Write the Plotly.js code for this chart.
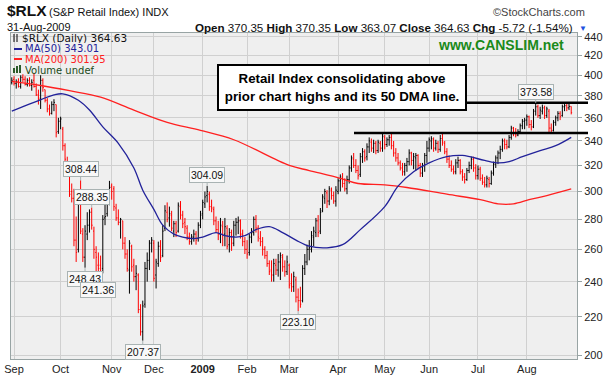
<!DOCTYPE html>
<html><head><meta charset="utf-8">
<script src="https://cdn.plot.ly/plotly-3.0.1.min.js"></script>
<style>html,body{margin:0;padding:0;background:#fff}#chart{width:612px;height:378px}</style>
</head><body><div id="chart"></div>
<script>
// ---- data (S&P Retail Index $RLX, daily, 29-Aug-2008 .. 31-Aug-2009) ----
const symbol = "$RLX";
const symbolName = "(S&amp;P Retail Index) INDX";
const lastDate = "31-Aug-2009";
const monthLabels = ["Sep","Oct","Nov","Dec","<b>2009</b>","Feb","Mar","Apr","May","Jun","Jul","Aug"];
const monthTradingDays = [21,23,19,22,20,19,22,21,20,22,22,21];
const barsBeforeFirstMonth = 1;

const openP = [
 393,396,392,394,389,398,396,391,395,390,395,389,381,377,395,386,376,368,364,372,372,348,
 357,350,336,323,316,300,295,266,260,300,270,255,270,276,285,272,258,250,250,248,281,284,295,
 304,302,288,281,278,279,264,257,247,262,250,243,244,224,212,227,248,253,264,
 264,244,251,262,256,274,285,281,283,272,277,272,289,283,278,274,268,265,268,270,267,276,
 284,291,297,298,289,287,279,273,270,275,270,274,263,271,264,276,278,279,270,265,
 260,258,268,271,280,274,267,265,260,256,251,247,244,250,247,252,255,249,246,
 250,239,237,241,231,229,229,248,252,260,260,268,271,279,272,286,295,299,293,301,297,293,
 300,308,310,306,302,309,318,325,320,316,313,327,331,327,335,339,334,338,332,338,334,
 343,337,341,343,336,330,326,322,318,315,320,323,330,324,326,328,320,314,320,328,
 334,340,341,334,338,333,342,338,331,325,320,317,315,322,324,315,311,309,316,320,325,318,
 312,317,310,307,305,309,306,314,321,326,330,333,340,337,335,343,351,347,345,348,353,357,
 358,361,354,352,366,370,362,366,369,362,366,351,349,356,360,364,362,370,371,369,370.35];
const highP = [
 398,399,396,397,400,401,399,397,398,396,402,392,386,400,397,386,378,372,375,377,372,360,
 361,352,338,327,318,306,302,282,296,308.44,274,276,285,287,288.35,275,262,258,256,283,293,300,308,
 306,304,291,287,281,279,268,260,266,263,254,250,245,227,229,252,258,266,268,
 266,254,265,266,276,290,292,289,286,279,279,292,293,286,281,276,271,270,273,272,278,286,
 294,300,304.09,300,294,289,282,279,281,279,281,276,274,273,279,281,282,280,273,268,
 266,270,274,282,283,276,272,268,262,259,253,253,254,254,257,258,257,253,256,
 251,245,246,243,236,237,250,257,263,266,272,275,281,283,288,298,302,301,304,303,300,304,
 310,313,314,310,312,320,328,330,325,320,330,334,333,338,343,342,341,340,341,340,347,
 345,343,345,346,340,334,330,324,322,322,326,333,331,330,330,329,322,322,330,340,
 343,344,343,341,340,345,347,340,334,328,324,320,325,327,325,317,314,318,323,327,327,321,
 320,319,313,311,312,311,316,323,328,332,336,342,342,341,345,353,352,351,350,355,359,360,
 363,362,358,368,373.58,372,370,372,371,370,368,355,358,362,366,366,372,373,373,373.5,370.35];
const lowP = [
 391,390,387,388,387,393,390,389,389,385,388,380,372,368,384,374,365,362,363,366,343,346,
 350,332,322,312,296,292,262,252,258,270,252,248.43,266,271,273,254,246,241.36,244,245,276,282,290,
 294,286,279,276,267,260,254,246,233,246,240,235,222,210,207.37,225,240,247,258,
 240,236,249,252,255,272,278,275,272,268,268,271,280,274,270,266,263,263,265,263,265,274,
 280,288,292,286,285,276,271,266,264,262,262,260,258,259,262,269,270,267,262,257,
 254,256,264,269,271,265,262,256,254,249,244,240,240,244,243,241,246,243,244,
 236,234,234,228,223.10,225,228,244,250,253,258,262,268,268,270,285,291,288,290,294,291,289,
 298,300,303,300,298,306,315,318,314,309,311,322,323,324,330,331,330,329,330,331,331,
 333,335,336,333,327,323,320,316,312,312,315,320,320,317,316,317,311,311,315,322,
 331,333,331,332,330,331,336,329,322,318,315,313,313,318,313,308,306,308,314,317,315,309,
 309,308,305,303,303,303,305,312,318,321,325,331,333,333,334,341,344,343,344,346,350,350,
 353,351,349,351,362,360,359,363,359,360,347,346,348,353,357,358,361,366,366,367,363.07];
const closeP = [
 395,392,394,389,398,396,391,395,390,393,389,381,378,395,388,376,368,364,372,374,347,357,
 359,336,325,316,298,295,266,258,293,272,255,272,276,285,276,260,255,248,246,280,282,296,303,
 300,289,281,278,280,264,257,248,264,249,243,245,224,212,226,248,253,264,266,
 242,252,262,255,272,286,280,284,274,277,271,290,283,277,275,268,265,268,270,266,276,283,
 292,296,300,289,288,279,273,270,276,269,275,262,271,264,276,278,279,270,265,260,
 257,268,271,280,274,268,265,260,256,251,246,244,251,247,252,256,249,246,252,
 238,237,243,231,229,227,248,252,260,261,269,272,279,271,285,296,300,293,302,297,293,301,
 308,311,306,302,309,318,326,320,316,312,327,331,326,335,340,334,338,332,339,334,344,
 337,341,343,336,330,326,322,318,315,320,323,330,324,327,328,320,314,320,328,334,
 341,342,334,338,333,342,339,331,325,320,317,315,322,324,315,311,309,316,320,325,318,312,
 317,310,307,305,310,306,314,321,326,330,333,340,337,335,343,351,347,345,348,353,357,358,
 361,354,352,366,370,362,367,369,362,368,351,349,356,360,364,361,370,371,369,370.35,364.63];

// moving averages (bar index, value)
const ma50Idx = [0,10,19,23,30,35,41,48,55,59,64,68,73,77,82,86,92,96,101,105,110,116,122,128,134,142,149,157,168,174,181,188,196,203,213,219,224,230,238,245,252];
const ma50Val = [366,374,381,382,376,367,352,338,318,301,287,276,270,268,267,268,271,269,268,269,273,275,271,266,262,261,263,273,289,304,315,322,327,328,324,322,323,327,332,336,343.01];
const ma200Idx = [0,13,26,40,55,70,85,100,125,134,148,156,168,178,196,211,219,226,233,241,252];
const ma200Val = [394,390,385,379,367,356,349,341,320,316,310,306,305,303,298,294,291,291,294,297,301.95];

// annotated price points: bar index and which extreme
const noteIdx  = [31,36,33,39,59,88,129,236];
const noteSide = ["high","high","low","low","low","high","low","high"];
const resistanceLevel = 373.58;
const supportLevel = 346.8;
const yTicks = [200,220,240,260,280,300,320,340,360,380,400,420,440];

// ---- build ----
const n = closeP.length;
const up = {x:[],o:[],h:[],l:[],c:[]}, dn = {x:[],o:[],h:[],l:[],c:[]};
for (let i = 0; i < n; i++) {
  const g = (i === 0 || closeP[i] >= closeP[i-1]) ? up : dn;
  g.x.push(i); g.o.push(openP[i]); g.h.push(highP[i]); g.l.push(lowP[i]); g.c.push(closeP[i]);
}
const tickVals = []; let pos = barsBeforeFirstMonth;
monthTradingDays.forEach(d => { tickVals.push(pos); pos += d; });

function ohlcTrace(g, col) {
  return {type:'ohlc', x:g.x, open:g.o, high:g.h, low:g.l, close:g.c, tickwidth:0.4,
    increasing:{line:{color:col,width:1}}, decreasing:{line:{color:col,width:1}}, hoverinfo:'skip'};
}
const MA50C = '#22229a', MA200C = '#ff2020';
const traces = [
  {type:'scatter', mode:'lines', x:ma200Idx, y:ma200Val, line:{color:MA200C,width:1.3,shape:'spline',smoothing:1}, hoverinfo:'skip'},
  {type:'scatter', mode:'lines', x:ma50Idx, y:ma50Val, line:{color:MA50C,width:1.3,shape:'spline',smoothing:1}, hoverinfo:'skip'},
  ohlcTrace(up,'#000000'),
  ohlcTrace(dn,'#ff0000')
];

const PL=11, PR=577, PT=33, PB=359;
const px = X => (X-PL)/(PR-PL), py = Y => (PB-Y)/(PB-PT);
const F = 'Liberation Sans, Arial, sans-serif';
const FL = 'DejaVu Sans, Verdana, sans-serif';
const last = n-1;
const chg = closeP[last]-closeP[last-1];
const pct = chg/closeP[last-1]*100;
const f2 = v => v.toFixed(2);

const ann = [];
const P = (X,Y,text,opt={}) => ann.push(Object.assign({xref:'paper',yref:'paper',x:px(X),y:py(Y),text:text,showarrow:false,xanchor:'left',yanchor:'middle',font:{family:F,size:11,color:'#111'}},opt));
P(5,11,'<b>'+symbol+'</b>',{font:{family:F,size:15.5,color:'#111'}});
P(47,12,symbolName);
P(587,12,'©StockCharts.com',{xanchor:'right',font:{family:F,size:11,color:'#444'}});
P(5,27,lastDate);
P(575,27,`<b>Open</b> ${f2(openP[last])} <b>High</b> ${f2(highP[last])} <b>Low</b> ${f2(lowP[last])} <b>Close</b> ${f2(closeP[last])} <b>Chg</b> ${f2(chg)} (${f2(pct)}%)`,{xanchor:'right',font:{family:F,size:11.6,color:'#111'}});
P(577,28,'▼',{font:{family:F,size:8,color:'#2050e0'}});
// legend
const LG = {height:10};
P(20,38,`${symbol} (Daily) ${f2(closeP[last])}`,Object.assign({font:{family:FL,size:10.5,color:'#111'}},LG));
P(23,48.5,`MA(50) ${f2(ma50Val[ma50Val.length-1])}`,Object.assign({font:{family:FL,size:10,color:MA50C}},LG));
P(23,59,`MA(200) ${f2(ma200Val[ma200Val.length-1])}`,Object.assign({font:{family:FL,size:10,color:MA200C}},LG));
P(23,69.5,'Volume undef',Object.assign({font:{family:FL,size:10,color:'#1a4a1a'}},LG));
P(501,45,'<b>www.CANSLIM.net</b>',{xanchor:'center',font:{family:F,size:14,color:'#1a8a1a'}});
// comment box
ann.push({xref:'paper',yref:'paper',x:px(342),y:py(87.5),xanchor:'center',yanchor:'middle',showarrow:false,
  text:'<b>Retail Index consolidating above<br>prior chart highs and its 50 DMA line.</b>',
  font:{family:F,size:13.3,color:'#000'},bgcolor:'#ffffff',bordercolor:'#000',borderwidth:2,borderpad:1,width:244,height:41,align:'center'});
// price notes
noteIdx.forEach((i,k) => {
  const hi = noteSide[k] === 'high';
  const v = hi ? highP[i] : lowP[i];
  ann.push({xref:'x',yref:'y',x:i,y:Math.log10(v),text:f2(v),showarrow:true,arrowhead:0,arrowwidth:1,arrowcolor:'#a9b3b3',
    ax:0,ay:hi?-11:11,standoff:0,bgcolor:'#f8f8f8',bordercolor:'#a9b3b3',borderwidth:1,borderpad:1,
    font:{family:F,size:10.5,color:'#111'}});
});

const shapes = [
  {type:'line',xref:'paper',yref:'y',x0:px(354),x1:px(588),y0:supportLevel,y1:supportLevel,line:{color:'#000',width:2.5},layer:'above'},
  {type:'line',xref:'paper',yref:'y',x0:px(467),x1:px(588),y0:resistanceLevel,y1:resistanceLevel,line:{color:'#000',width:2.5},layer:'above'},
  // legend swatches
  {type:'line',xref:'paper',yref:'paper',x0:px(14),x1:px(22),y0:py(49),y1:py(49),line:{color:MA50C,width:2}},
  {type:'line',xref:'paper',yref:'paper',x0:px(14),x1:px(22),y0:py(59),y1:py(59),line:{color:MA200C,width:2}},
  {type:'line',xref:'paper',yref:'paper',x0:px(14),x1:px(14),y0:py(34),y1:py(42),line:{color:'#000',width:1}},
  {type:'line',xref:'paper',yref:'paper',x0:px(17),x1:px(17),y0:py(34),y1:py(42),line:{color:'#000',width:1}},
  {type:'rect',xref:'paper',yref:'paper',x0:px(13),x1:px(15),y0:py(73),y1:py(68),line:{width:0},fillcolor:'#2a5a2a'},
  {type:'rect',xref:'paper',yref:'paper',x0:px(16),x1:px(18),y0:py(73),y1:py(66),line:{width:0},fillcolor:'#2a5a2a'},
  {type:'rect',xref:'paper',yref:'paper',x0:px(19),x1:px(21),y0:py(73),y1:py(65),line:{width:0},fillcolor:'#2a5a2a'}
];

const layout = {
  width:612, height:378, margin:{l:PL,r:612-PR,t:PT,b:378-PB,pad:0},
  paper_bgcolor:'#ffffff', plot_bgcolor:'#efefef', showlegend:false,
  font:{family:F,size:11,color:'#222'},
  xaxis:{range:[-0.35,254.6], tickmode:'array', tickvals:tickVals, ticktext:monthLabels,
    showgrid:true, gridcolor:'#d0d0d0', gridwidth:1, zeroline:false, showline:true, linecolor:'#98a4a4', mirror:true,
    ticks:'', rangeslider:{visible:false}, tickfont:{family:F,size:11,color:'#222'}, fixedrange:true},
  yaxis:{type:'log', side:'right', range:[Math.log10(198.2), Math.log10(444.1)], tickmode:'array', tickvals:yTicks,
    ticktext:yTicks.map(String), showgrid:true, gridcolor:'#d0d0d0', zeroline:false, showline:true, linecolor:'#98a4a4',
    mirror:true, ticks:'outside', ticklen:4, tickcolor:'#98a4a4', tickfont:{family:F,size:11,color:'#222'}, fixedrange:true},
  annotations:ann, shapes:shapes
};
Plotly.newPlot('chart', traces, layout, {staticPlot:true, displayModeBar:false});
</script></body></html>
